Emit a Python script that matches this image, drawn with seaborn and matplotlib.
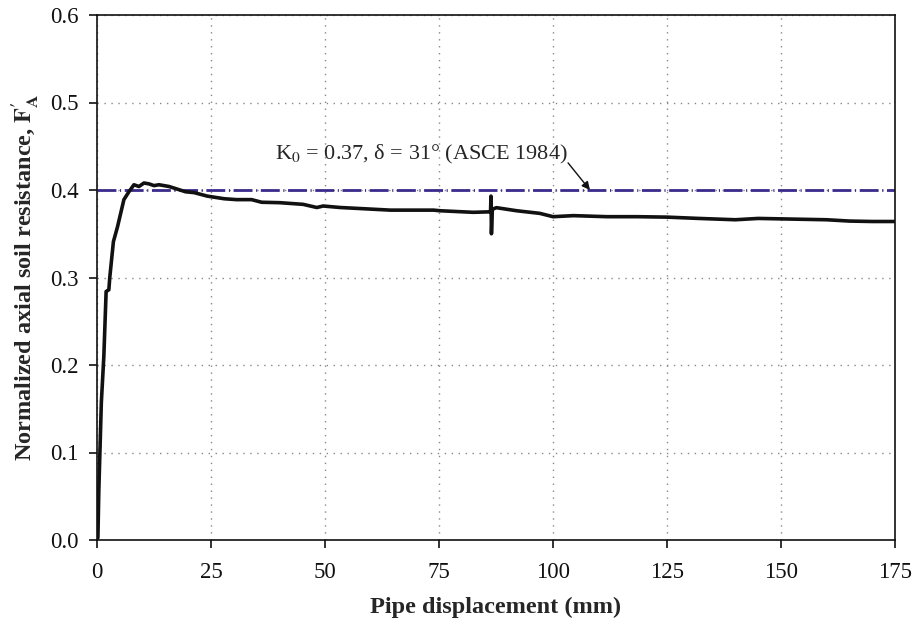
import matplotlib
matplotlib.use("Agg")
import matplotlib.pyplot as plt
import seaborn as sns
import pandas as pd

# Data
displacement = [0, 0.2, 0.4, 0.95, 1.5, 2.0, 2.6, 2.8, 3.6, 4.5, 5.9, 7.0, 8.1, 9.2,
                10.3, 11.4, 12.5, 13.6, 14.7, 15.8, 17.6, 19.4, 21.3, 24.2, 27.9,
                30.6, 33.9, 36.1, 40.1, 45.2, 48.2, 49.6, 53.3, 57.0, 64.3, 73.8,
                75.2, 82.5, 85.8, 86.3, 86.4, 86.5, 86.7, 87.6, 92.0, 97.1, 100.0,
                104.5, 111.8, 118.4, 125.0, 132.0, 140.0, 145.0, 150.0, 155.0,
                160.0, 165.0, 170.0, 175.0]
resistance = [0.0, 0.003, 0.057, 0.157, 0.21, 0.284, 0.286, 0.30, 0.341, 0.358,
              0.389, 0.398, 0.406, 0.404, 0.408, 0.407, 0.405, 0.406, 0.405, 0.404,
              0.401, 0.398, 0.397, 0.393, 0.390, 0.389, 0.389, 0.386, 0.3855,
              0.3836, 0.380, 0.3817, 0.380, 0.379, 0.377, 0.377, 0.3763, 0.3745,
              0.375, 0.375, 0.393, 0.350, 0.378, 0.3798, 0.3763, 0.3733, 0.3695,
              0.3707, 0.3695, 0.3695, 0.369, 0.3675, 0.366, 0.3675, 0.367,
              0.3665, 0.366, 0.3645, 0.364, 0.364]
asce_value = 0.40
x_ticks = [0, 25, 50, 75, 100, 125, 150, 175]
y_ticks = [0.0, 0.1, 0.2, 0.3, 0.4, 0.5, 0.6]
annotation = "K$_0$ = 0.37, δ = 31° (ASCE 1984)"

df = pd.DataFrame({"disp": displacement, "res": resistance})

sns.set_style("ticks")
plt.rcParams["font.family"] = ["Liberation Serif", "DejaVu Serif"]
plt.rcParams["mathtext.fontset"] = "stix"

fig = plt.figure(figsize=(9.14, 6.24), dpi=100)
ax = fig.add_axes([97 / 914, 84 / 624, 798 / 914, 525 / 624])

ax.axhline(asce_value, color="#3b2a8c", lw=2.0,
           linestyle=(0, (6.8, 1.3, 0.4, 1.3)), zorder=2)
sns.lineplot(data=df, x="disp", y="res", ax=ax, color="#111111", lw=2.6,
             sort=False, estimator=None, zorder=3)

ax.set_xlim(0, 175)
ax.set_ylim(0, 0.6)
ax.set_xticks(x_ticks)
ax.set_yticks(y_ticks)
ax.set_xticklabels([str(t) for t in x_ticks])
ax.set_yticklabels([f"{t:.1f}" for t in y_ticks])
ax.tick_params(axis="both", direction="out", length=6, width=1.2,
               labelsize=16.5, colors="#111111")
ax.tick_params(axis="x", pad=10)
ax.tick_params(axis="y", pad=7)
for s in ax.spines.values():
    s.set_visible(True)
    s.set_linewidth(1.2)
    s.set_color("#111111")
ax.grid(True, linestyle=(0, (1, 4)), color="#888888", lw=1.0)

ax.set_xlabel("Pipe displacement (mm)", fontsize=17.5, fontweight="bold", labelpad=10)
ax.set_ylabel(r"Normalized axial soil resistance, $\mathbf{F^{\prime}_{A}}$",
              fontsize=17.5, fontweight="bold", labelpad=7)

ax.text(71.2, 0.441, annotation, ha="center", va="center", fontsize=16)
ax.annotate("", xy=(108.1, 0.4), xytext=(103.3, 0.431),
            arrowprops=dict(arrowstyle="-|>", color="#111111", lw=1.0,
                            mutation_scale=12, shrinkA=0, shrinkB=0))

fig.savefig("out.png", dpi=100)
